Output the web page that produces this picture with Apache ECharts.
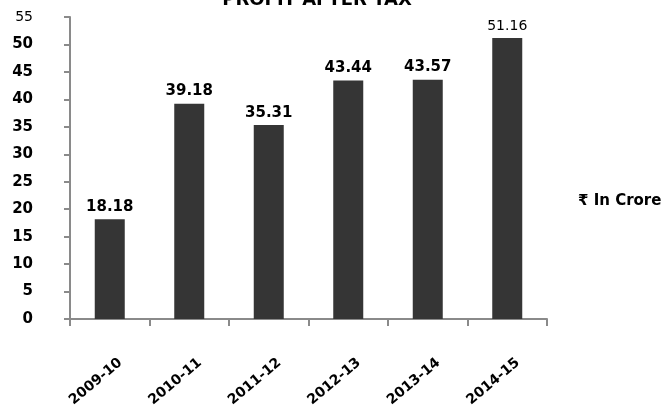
<!DOCTYPE html>
<html>
<head>
<meta charset="utf-8">
<script src="https://cdn.jsdelivr.net/npm/echarts@6/dist/echarts.min.js"></script>
<style>
  html, body { margin: 0; padding: 0; background: #fff; }
  #chart { width: 669px; height: 409px; }
</style>
</head>
<body>
<div id="chart"></div>
<script>
// Profit after tax by financial year (₹ in crore)
var years = ['2009-10', '2010-11', '2011-12', '2012-13', '2013-14', '2014-15'];
var profit = [18.18, 39.18, 35.31, 43.44, 43.57, 51.16];
var yTicks = { min: 0, max: 55, step: 5 };

var chart = echarts.init(document.getElementById('chart'));
var axisGrey = '#8a8a8a';
var boldFont = { fontFamily: 'DejaVu Sans', fontWeight: 'bold', color: '#000' };

// the latest year's value label is set in a lighter style
var barData = profit.map(function (v, i) {
  if (i === profit.length - 1) {
    return { value: v, label: { fontWeight: 'normal', fontSize: 14 } };
  }
  return v;
});

chart.setOption({
  animation: false,
  title: [
    {
      text: 'PROFIT AFTER TAX',
      left: 312, top: -14, textAlign: 'center',
      textStyle: { fontFamily: 'DejaVu Sans', fontWeight: 'bold', fontSize: 18, color: '#000' }
    },
    {
      text: '₹ In Crore',
      left: 573, top: 189,
      textStyle: { fontFamily: 'DejaVu Sans', fontWeight: 'bold', fontSize: 15, color: '#000' }
    }
  ],
  grid: { left: 70, right: 122, top: 17, bottom: 90, containLabel: false, outerBoundsMode: 'none' },
  xAxis: {
    type: 'category',
    data: years,
    boundaryGap: true,
    axisLine: { lineStyle: { color: axisGrey, width: 2 } },
    axisTick: { show: true, length: 7, alignWithLabel: false, lineStyle: { color: axisGrey, width: 2 } },
    axisLabel: Object.assign({ rotate: 40, fontSize: 14, margin: 51, interval: 0,
      padding: [0, -14, 0, 0] }, boldFont),
    splitLine: { show: false }
  },
  yAxis: {
    type: 'value',
    min: yTicks.min, max: yTicks.max, interval: yTicks.step,
    axisLine: { show: true, lineStyle: { color: axisGrey, width: 2 } },
    axisTick: { show: true, length: 6, lineStyle: { color: axisGrey, width: 2 } },
    axisLabel: Object.assign({ fontSize: 15, margin: 37,
      formatter: function (v) {
        return v === yTicks.max ? '{top|' + v + '}' : String(v);
      },
      rich: { top: { fontFamily: 'DejaVu Sans', fontWeight: 'normal', fontSize: 14, color: '#000' } }
    }, boldFont),
    splitLine: { show: false }
  },
  series: [{
    type: 'bar',
    data: barData,
    barWidth: 30,
    itemStyle: { color: '#353535' },
    label: {
      show: true, position: 'top', distance: 5,
      fontFamily: 'DejaVu Sans', fontWeight: 'bold', fontSize: 15, color: '#000',
      formatter: function (p) { return p.value.toFixed(2); }
    }
  }]
});
</script>
</body>
</html>
